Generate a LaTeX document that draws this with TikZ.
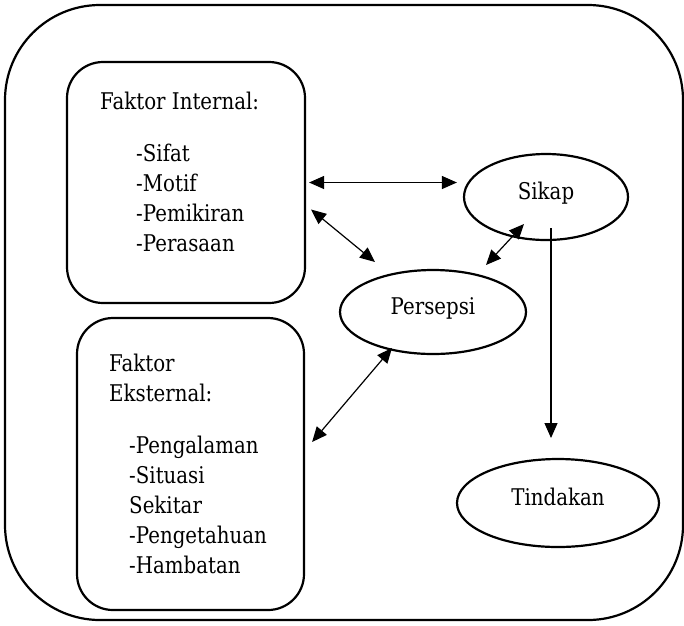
\documentclass[tikz,border=0pt]{standalone}
\usepackage{fontspec}
\setmainfont{DejaVu Serif}[FakeStretch=0.86]
\usetikzlibrary{arrows.meta,calc,shapes.geometric}

\tikzset{
  box/.style={draw, line width=2.2pt, rounded corners=36pt, inner sep=0pt},
  oval/.style={draw, ellipse, line width=2.2pt, inner sep=0pt,
    text height=0.68em, text depth=0.22em},
  txt/.style={anchor=base west, inner sep=0pt},
  tip/.tip={Triangle[length=15pt,width=13pt]},
  link/.style={line width=1.2pt, tip-tip},
  lead/.style={line width=1.2pt, -tip},
}

\begin{document}
\begin{tikzpicture}[x=1pt,y=-1pt,font=\fontsize{23}{30}\selectfont]
\useasboundingbox (0,0) rectangle (684,625);

\node[box, rounded corners=95pt, minimum width=678pt, minimum height=615pt] (frame) at (344,312.5) {};

\node[box, minimum width=238pt, minimum height=241pt] (int) at (186,182.5) {};
\node[box, minimum width=227pt, minimum height=292pt] (ext) at (190.5,464) {};

\node[oval, minimum width=164pt, minimum height=86pt] (sikap) at (546,197) {Sikap};
\node[oval, minimum width=186pt, minimum height=84pt] (pers) at (433,312) {Persepsi};
\node[oval, minimum width=202pt, minimum height=88pt] (tind) at (558,503) {Tindakan};

% internal factors
\node[txt] (inttitle) at (100,109) {Faktor Internal:};
\node[txt] (sifat) at (136,161) {-Sifat};
\node[txt] (motif) at (136,191) {-Motif};
\node[txt] (pikir) at (136,221) {-Pemikiran};
\node[txt] (rasa) at (136,251) {-Perasaan};

% external factors
\node[txt] (exttitle) at (109,371) {Faktor};
\node[txt] (exttitleb) at (109,401) {Eksternal:};
\node[txt] (alam) at (129,453) {-Pengalaman};
\node[txt] (situasi) at (129,483) {-Situasi};
\node[txt] (sekitar) at (129,513) {Sekitar};
\node[txt] (tahu) at (129,543) {-Pengetahuan};
\node[txt] (hambat) at (129,573) {-Hambatan};

\draw[link] ($(int.east)+(3,0)$) -- ($(int.east -| sikap.west)+(-6,0)$);
\draw[link] ($(int.east)+(5,27)$) -- ($(pers)+(-58,-50)$);
\draw[link] ($(sikap)+(-22,27)$) -- ($(pers)+(53,-47)$);
\draw[link] ($(pers)+(-41,36)$) -- ($(ext.east)+(7,-22)$);
\draw[lead] ($(sikap)+(5,31)$) -- ($(tind)+(-7,-65)$);
\end{tikzpicture}
\end{document}
